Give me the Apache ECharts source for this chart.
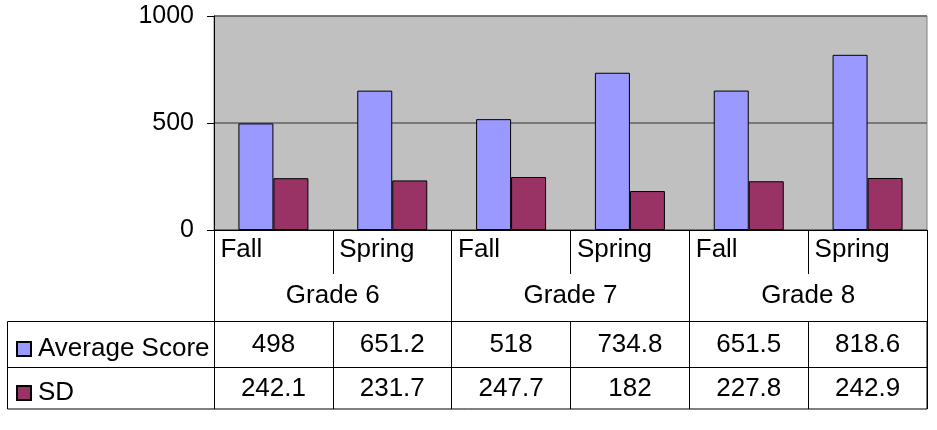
<!DOCTYPE html>
<html lang="en">
<head>
    <meta charset="UTF-8">
    <title>Average Score and SD by Grade</title>
    <script src="https://cdn.jsdelivr.net/npm/echarts@6.0.0/dist/echarts.min.js"></script>
    <style>
        html, body { margin: 0; padding: 0; background: #fff; }
        #main { width: 937px; height: 430px; }
    </style>
</head>
<body>
    <div id="main"></div>
    <script>
        // chart data
        var terms = ['Fall', 'Spring', 'Fall', 'Spring', 'Fall', 'Spring'];
        var grades = ['Grade 6', 'Grade 7', 'Grade 8'];
        var avgScore = [498, 651.2, 518, 734.8, 651.5, 818.6];
        var sdScore = [242.1, 231.7, 247.7, 182, 227.8, 242.9];
        var seriesNames = ['Average Score', 'SD'];
        var yTicks = [0, 500, 1000];

        var font = 'Liberation Sans, Arial, sans-serif';
        var fs = 26;
        var myChart = echarts.init(document.getElementById('main'));

        // table row axes share this look
        function rowAxis(offset, tickLen, margin, values) {
            return {
                type: 'category',
                data: terms,
                position: 'bottom',
                offset: offset,
                axisLine: { show: true, lineStyle: { color: '#000', width: 1 } },
                axisTick: { show: true, interval: 0, length: tickLen, lineStyle: { color: '#000' } },
                axisLabel: {
                    interval: 0, margin: margin, fontSize: fs, fontFamily: font, color: '#000',
                    formatter: function (v, i) { return String(values[i]); }
                },
                splitLine: { show: false }
            };
        }

        var option = {
            animation: false,
            grid: {
                left: 214, right: 10, top: 16, bottom: 200,
                show: true, backgroundColor: '#C0C0C0', borderColor: '#808080', borderWidth: 1,
                outerBoundsMode: 'none'
            },
            legend: {
                orient: 'vertical',
                left: 16, top: 336,
                padding: 0,
                itemWidth: 14, itemHeight: 14, itemGap: 18,
                icon: 'rect',
                textStyle: { fontSize: fs, fontFamily: font, color: '#000', lineHeight: 26, padding: [0, 0, 0, 2] },
                data: seriesNames
            },
            xAxis: [
                {
                    type: 'category',
                    data: terms,
                    position: 'bottom',
                    axisLine: { show: true, lineStyle: { color: '#000', width: 1 } },
                    axisTick: { show: true, interval: 0, length: 44, lineStyle: { color: '#000' } },
                    axisLabel: {
                        interval: 0, margin: 7, color: '#000',
                        formatter: function (v) { return '{t|' + v + '}'; },
                        rich: { t: { width: 106, align: 'left', fontSize: fs, fontFamily: font, color: '#000' } }
                    }
                },
                {
                    type: 'category',
                    data: grades,
                    position: 'bottom',
                    axisLine: { show: false },
                    axisTick: { show: true, interval: 0, length: 91, lineStyle: { color: '#000' } },
                    axisLabel: { interval: 0, margin: 53, fontSize: fs, fontFamily: font, color: '#000' }
                },
                rowAxis(91, 46, 11, avgScore),
                rowAxis(137, 42, 9, sdScore)
            ],
            yAxis: {
                type: 'value',
                min: yTicks[0], max: yTicks[yTicks.length - 1], interval: yTicks[1] - yTicks[0],
                axisLine: { show: true, lineStyle: { color: '#000', width: 1 } },
                axisTick: { show: true, length: 7, lineStyle: { color: '#000' } },
                axisLabel: {
                    margin: 20, fontSize: 25, fontFamily: font, color: '#000',
                    formatter: function (v) { return String(v); }
                },
                splitLine: { show: true, lineStyle: { color: '#606060', width: 1.5 } }
            },
            series: [
                {
                    name: seriesNames[0], type: 'bar', xAxisIndex: 0, data: avgScore,
                    barWidth: 35, barGap: '0%',
                    itemStyle: { color: '#9999FF', borderColor: '#000', borderWidth: 1 }
                },
                {
                    name: seriesNames[1], type: 'bar', xAxisIndex: 0, data: sdScore,
                    barWidth: 35, barGap: '0%',
                    itemStyle: { color: '#993366', borderColor: '#000', borderWidth: 1 }
                }
            ],
            // outer border of the data table and the legend column divider
            graphic: [
                {
                    type: 'rect', silent: true,
                    shape: { x: 7.5, y: 321.5, width: 919.5, height: 87.5 },
                    style: { fill: 'none', stroke: '#000', lineWidth: 1 }
                },
                {
                    type: 'line', silent: true,
                    shape: { x1: 7.5, y1: 367.5, x2: 214, y2: 367.5 },
                    style: { stroke: '#000', lineWidth: 1 }
                }
            ]
        };

        myChart.setOption(option);
    </script>
</body>
</html>
